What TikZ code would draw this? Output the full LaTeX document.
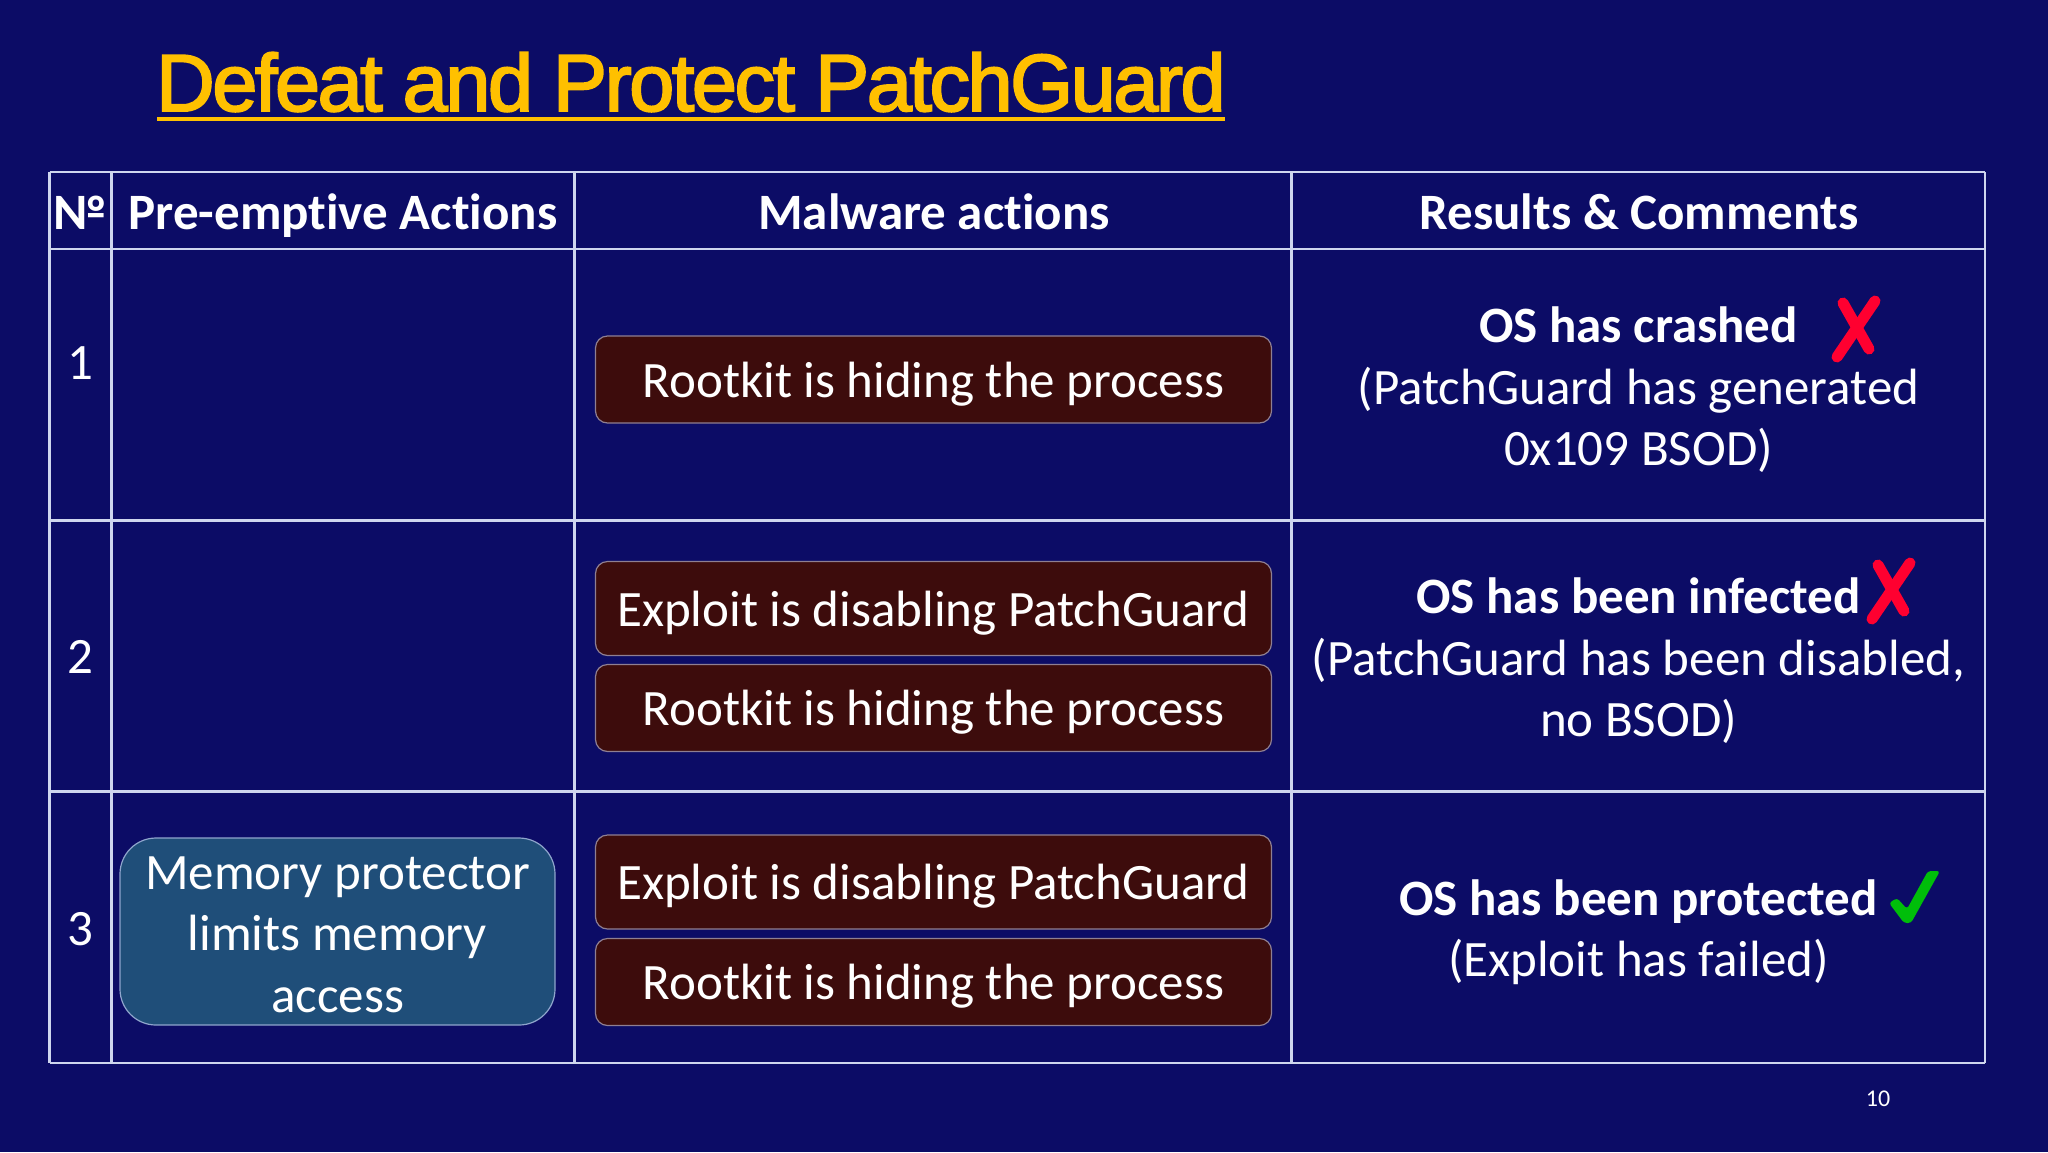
\documentclass[tikz,border=0pt]{standalone}
\usepackage{fontspec}
\setmainfont[Ligatures=NoCommon]{Carlito}
\newfontfamily\titlefont[LetterSpace=-3.0,FakeBold=2.4]{Liberation Sans}
\definecolor{slidebg}{HTML}{0C0C66}
\definecolor{titlegold}{HTML}{FFC000}
\definecolor{gridline}{HTML}{CFD6EE}
\definecolor{malwarefill}{HTML}{3D0C0C}
\definecolor{malwareedge}{HTML}{8F7F92}
\definecolor{protectfill}{HTML}{1F4E79}
\definecolor{protectedge}{HTML}{8FA5CC}
\definecolor{badred}{HTML}{FF0030}
\definecolor{goodgreen}{HTML}{00BE0A}
\tikzset{
  celltext/.style={text=white,inner sep=0pt,align=center,font=\fontsize{51}{61.4}\selectfont},
  headtext/.style={celltext,font=\fontsize{51}{61.4}\selectfont\bfseries,text height=41pt,text depth=6pt},
  malwarebox/.style={celltext,draw=malwareedge,line width=1.2pt,fill=malwarefill,rounded corners=12pt,minimum width=676pt,text height=41pt,text depth=6pt},
  protectbox/.style={celltext,draw=protectedge,line width=1.2pt,fill=protectfill,rounded corners=36pt,minimum width=435pt,minimum height=187pt},
  gridrule/.style={gridline,line width=2.4pt},
  badmark/.style={badred,line width=11pt,line cap=round},
  goodmark/.style={goodgreen,rounded corners=3pt}
}
\begin{document}
\begin{tikzpicture}[x=1pt,y=-1pt]
    \useasboundingbox (0,0) rectangle (2048,1152);
    % Fondo
    \fill[slidebg] (0,0) rectangle (2048,1152);

    % Titulo
    \node[anchor=base west,inner sep=0pt,text=titlegold,font=\fontsize{81}{96}\selectfont\titlefont] (title) at (156,111) {Defeat and Protect PatchGuard};
    \draw[titlegold,line width=4pt] (157,119) -- (1225,119);

    % Tabla
    \foreach \ypos in {172,249,520.5,791.5,1063}
      \draw[gridrule] (49.5,\ypos) -- (1985,\ypos);
    \foreach \xpos in {49.5,111.5,574.5,1291.5,1985}
      \draw[gridrule] (\xpos,172) -- (\xpos,1063);

    % Encabezados
    \node[headtext] (headno) at (80,212) {№};
    \node[headtext] (headpre) at (343,212) {Pre-emptive Actions};
    \node[headtext] (headmal) at (934,212) {Malware actions};
    \node[headtext] (headres) at (1639,212) {Results \& Comments};

    % Numeros de fila
    \node[celltext] (rowone) at (80,363) {1};
    \node[celltext] (rowtwo) at (80,657) {2};
    \node[celltext] (rowthree) at (80,929) {3};

    % Acciones
    \node[protectbox] (protector) at (337.5,931.5) {\rule{0pt}{39pt}Memory protector\\limits memory\\access};
    \node[malwarebox,minimum height=87pt] (hideone) at (933.5,379.5) {Rootkit is hiding the process};
    \node[malwarebox,minimum height=94pt] (exploittwo) at (933.5,608.5) {Exploit is disabling PatchGuard};
    \node[malwarebox,minimum height=87pt] (hidetwo) at (933.5,708) {Rootkit is hiding the process};
    \node[malwarebox,minimum height=94pt] (exploitthree) at (933.5,882) {Exploit is disabling PatchGuard};
    \node[malwarebox,minimum height=87pt] (hidethree) at (933.5,982) {Rootkit is hiding the process};

    % Resultados
    \node[celltext] (resone) at (1638.5,390) {\textbf{OS has crashed}\\(PatchGuard has generated\\0x109 BSOD)};
    \node[celltext] (restwo) at (1638.5,661) {\textbf{OS has been infected}\\(PatchGuard has been disabled,\\no BSOD)};
    \node[celltext] (resthree) at (1638.5,932) {\textbf{OS has been protected}\\(Exploit has failed)};

    % Marcas
    \draw[badmark] (1843,303) -- (1869,349);
    \draw[badmark] (1875,301) -- (1837,357);
    \draw[badmark] (1878,565) -- (1904,611);
    \draw[badmark] (1910,563) -- (1872,619);
    \fill[goodmark] (1889,903) -- (1897,898) -- (1907,909) -- (1928,871) -- (1940,871) -- (1911,923) -- (1904,923) -- cycle;

    \node[text=white,inner sep=0pt,font=\fontsize{24}{28}\selectfont] (pagenum) at (1878,1099) {10};
\end{tikzpicture}
\end{document}
